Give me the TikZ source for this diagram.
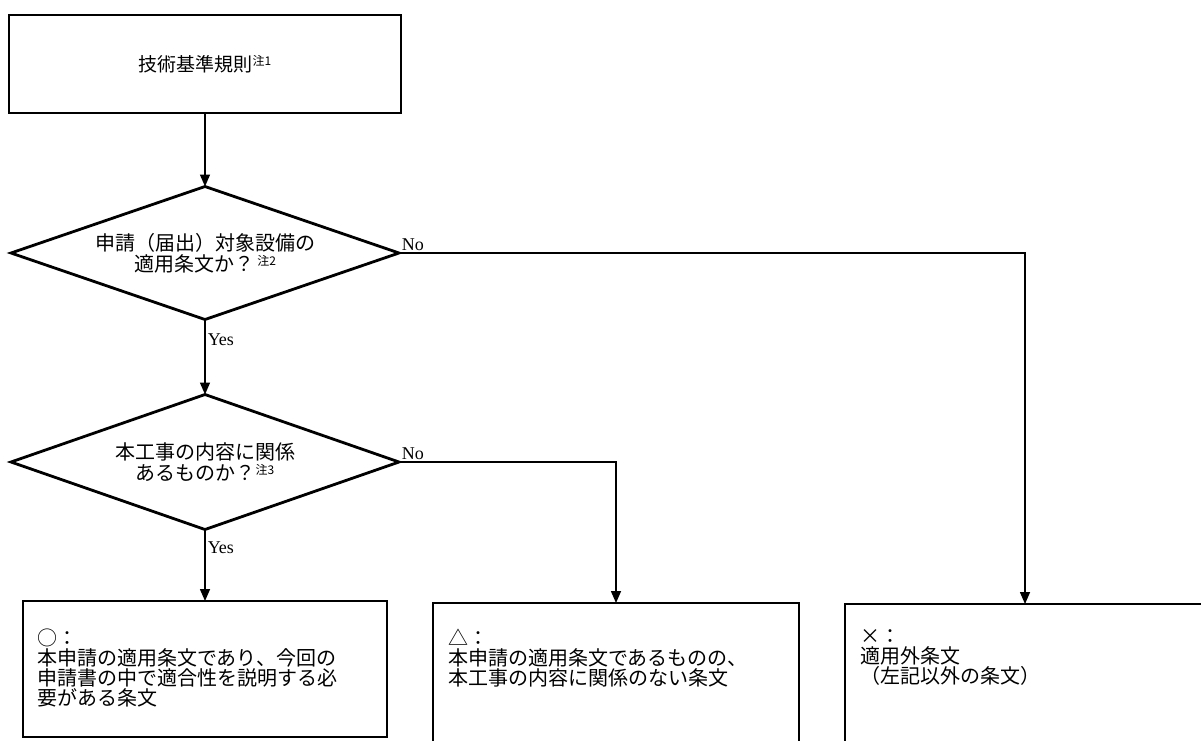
\documentclass[tikz,border=0pt]{standalone}
\usepackage{fontspec}
\setmainfont{Liberation Serif}
\newfontfamily\jpfont{Noto Sans CJK JP}
\usetikzlibrary{shapes.geometric,arrows.meta,positioning}
\newcommand{\chuki}[1]{\raisebox{6pt}{\fontsize{12pt}{12pt}\selectfont 注#1}}
\begin{document}
\begin{tikzpicture}[x=1pt,y=-1pt,line cap=rect,
  rulebox/.style={rectangle,draw=custcol_0_0_0,line width=2.5pt,inner sep=0,outer sep=0},
  decision/.style={diamond,draw=custcol_0_0_0,line width=2.8pt,inner sep=0,outer sep=0,aspect=2.9,align=center,font=\jpfont\fontsize{20pt}{21pt}\selectfont},
  restext/.style={inner sep=0,outer sep=0,align=left,anchor=north west,font=\jpfont\fontsize{20pt}{20pt}\selectfont},
  flow/.style={draw=custcol_0_0_0,line width=1.5pt,-{Triangle[length=12pt,width=10pt]}},
  ynlabel/.style={inner sep=2pt,font=\fontsize{18pt}{18pt}\selectfont}]
\useasboundingbox (0,0) rectangle (1201,740);
\clip (0,0) rectangle (1201,740);
\definecolor{custcol_0_0_0}{RGB}{0, 0, 0}
\node[rulebox, minimum width=392pt, minimum height=98pt, font=\jpfont\fontsize{19pt}{19pt}\selectfont] (rules) at (205,64) {技術基準規則\chuki{1}};
\node[decision, minimum width=388pt, minimum height=133pt] (q1) at (205,253) {申請（届出）対象設備の\\適用条文か？\,\chuki{2}};
\node[decision, minimum width=388pt, minimum height=135pt] (q2) at (205,462) {本工事の内容に関係\\あるものか？\chuki{3}};
\node[rulebox, minimum width=364pt, minimum height=136pt] (resA) at (205,669) {};
\node[rulebox, minimum width=366pt, minimum height=160pt] (resB) at (616,683) {};
\node[rulebox, minimum width=360pt, minimum height=160pt] (resC) at (1025,684) {};
\node[restext, below right=28pt and 14pt of resA.north west] (resAtext) {○：\\本申請の適用条文であり、今回の\\申請書の中で適合性を説明する必\\要がある条文};
\node[restext, below right=26pt and 15pt of resB.north west] (resBtext) {△：\\本申請の適用条文であるものの、\\本工事の内容に関係のない条文};
\node[restext, below right=26pt and 15pt of resC.north west] (resCtext) {×：\\適用外条文\\（左記以外の条文）};
\draw[flow] (rules) -- (q1);
\draw[flow] (q1.south) -- node[ynlabel, pos=0.27, anchor=west] (yes1) {Yes} (q2.north);
\draw[flow] (q2.south) -- node[ynlabel, pos=0.25, anchor=west] (yes2) {Yes} (resA.north);
\draw[flow] (q1.east) -| node[ynlabel, pos=0, anchor=south west] (no1) {No} (resC.north);
\draw[flow] (q2.east) -| node[ynlabel, pos=0, anchor=south west] (no2) {No} (resB.north);
\end{tikzpicture}
\end{document}
